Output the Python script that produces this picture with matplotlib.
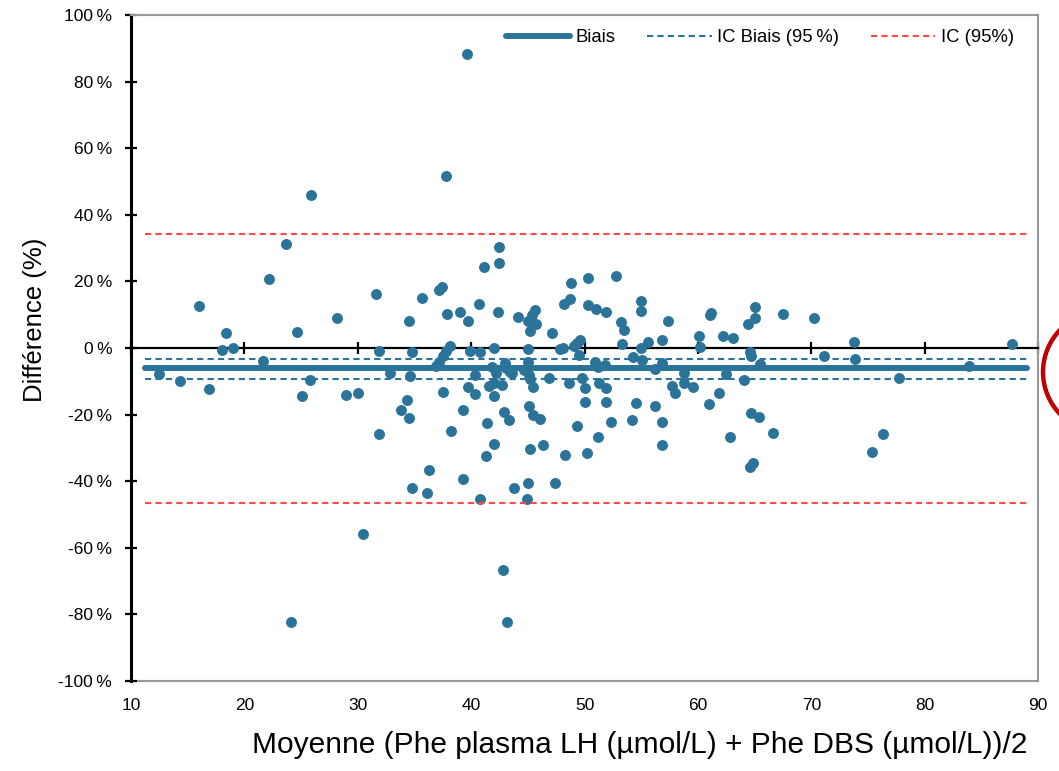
import numpy as np
import matplotlib
matplotlib.use('Agg')
import matplotlib.pyplot as plt
from matplotlib.patches import Ellipse

plt.rcParams['font.family'] = ['Liberation Sans', 'DejaVu Sans']

# moyenne des deux methodes (umol/L) et difference (%)
moyenne = [12.5, 14.3, 16.0, 16.9, 18.0, 18.4, 19.0, 21.6, 22.2, 23.7,
           24.1, 24.6, 25.1, 25.8, 25.9, 28.2, 29.0, 30.0, 30.5, 31.6,
           31.9, 31.9, 32.8, 33.8, 34.3, 34.5, 34.5, 34.6, 34.8, 34.8,
           35.7, 36.1, 36.3, 36.9, 37.2, 37.2, 37.4, 37.5, 37.5, 37.8,
           37.8, 37.9, 38.1, 38.2, 39.0, 39.3, 39.3, 39.6, 39.7, 39.7,
           39.9, 40.3, 40.3, 40.7, 40.8, 40.8, 41.1, 41.3, 41.4, 41.6,
           41.8, 42.0, 42.0, 42.0, 42.0, 42.2, 42.4, 42.5, 42.5, 42.7,
           42.8, 42.9, 43.0, 43.1, 43.2, 43.3, 43.4, 43.6, 43.8, 44.1,
           44.7, 44.9, 45.0, 45.0, 45.0, 45.0, 45.1, 45.1, 45.2, 45.2,
           45.2, 45.4, 45.5, 45.5, 45.6, 45.7, 46.1, 46.3, 46.9, 47.1,
           47.4, 47.8, 48.1, 48.2, 48.3, 48.6, 48.7, 48.8, 49.1, 49.3,
           49.5, 49.6, 49.8, 50.0, 50.0, 50.2, 50.3, 50.3, 50.9, 51.0,
           51.2, 51.2, 51.3, 51.8, 51.9, 51.9, 51.9, 52.3, 52.8, 53.2,
           53.3, 53.5, 54.2, 54.3, 54.5, 55.0, 55.0, 55.0, 55.1, 55.6,
           56.2, 56.2, 56.8, 56.8, 56.8, 56.8, 57.4, 57.7, 58.0, 58.8,
           58.8, 59.6, 60.1, 60.2, 61.0, 61.1, 61.2, 61.9, 62.2, 62.5,
           62.8, 63.1, 64.1, 64.4, 64.6, 64.6, 64.7, 64.7, 64.9, 65.0,
           65.0, 65.4, 65.5, 66.6, 67.5, 70.2, 71.1, 73.8, 73.9, 75.4,
           76.3, 77.7, 83.9, 87.7, 49.3]
difference = [-7.9, -9.9, 12.7, -12.2, -0.6, 4.4, -0.1, -3.9, 20.6, 31.1,
              -82.4, 4.8, -14.4, -9.6, 45.9, 8.9, -14.0, -13.4, -55.9, 16.1,
              -0.9, -25.8, -7.6, -18.6, -15.6, -20.9, 8.2, -8.4, -1.3, -42.0,
              15.0, -43.5, -36.7, -5.4, 17.4, -4.1, 18.4, -2.4, -13.3, 51.6,
              -0.8, 10.1, 0.6, -24.9, 10.9, -18.6, -39.4, 88.4, 8.2, -11.8,
              -0.9, -8.1, -13.7, 13.1, -1.3, -45.4, 24.4, -32.4, -22.4, -11.3,
              -5.6, -0.1, -10.4, -14.4, -28.8, -7.6, 10.7, 30.4, 25.4, -11.1,
              -66.6, -19.3, -4.6, -6.1, -82.4, -21.6, -7.1, -7.6, -42.1, 9.2,
              -6.6, -45.4, 8.2, -0.3, -4.1, -40.4, -8.1, -17.4, 5.1, -9.4,
              -30.4, 9.9, -11.6, -20.1, 11.4, 7.1, -21.3, -29.1, -9.1, 4.4,
              -40.4, -0.3, 0.1, 13.1, -32.1, -10.4, 14.6, 19.4, 0.6, -23.4,
              -2.1, 2.4, -8.9, -12.1, -16.3, -31.4, 21.1, 12.9, -4.1, 11.6,
              -5.6, -26.6, -10.6, -5.1, 10.7, -12.1, -16.3, -22.1, 21.7, 7.7,
              1.1, 5.4, -21.6, -2.8, -16.6, 14.1, 11.2, -0.1, -3.6, 1.7,
              -6.4, -17.4, 2.4, -4.6, -22.1, -29.1, 8.2, -11.3, -13.6, -7.6,
              -10.6, -11.8, 3.7, 0.4, -16.8, 9.9, 10.4, -13.4, 3.6, -7.8,
              -26.6, 2.9, -9.6, 7.1, -1.3, -35.6, -2.3, -19.6, -34.6, 12.4,
              8.9, -20.6, -4.8, -25.4, 10.1, 8.9, -2.4, 1.9, -3.3, -31.1,
              -25.8, -8.9, -5.3, 1.1, 1.4]

biais = -6.1
ic_biais = [-3.2, -9.2]
ic_95 = [34.2, -46.6]
x_lignes = [11.2, 89.0]

bleu = '#2b7398'
rouge = '#ff4a4a'

fig = plt.figure(figsize=(10.59, 7.71), dpi=100)
ax = fig.add_axes([0.1237, 0.1167, 0.8565, 0.8638])

ax.scatter(moyenne, difference, s=62, color=bleu, linewidths=0, zorder=3)

# les lignes passent au-dessus des points
ax.plot(x_lignes, [biais, biais], color=bleu, lw=4.3, solid_capstyle='round',
        label='Biais', zorder=4)
ax.plot(x_lignes, [ic_biais[0]] * 2, color=bleu, lw=1.5, ls=(0, (3, 2)),
        label='IC Biais (95\u2009%)', zorder=4)
ax.plot(x_lignes, [ic_biais[1]] * 2, color=bleu, lw=1.5, ls=(0, (3, 2)), zorder=4)
ax.plot(x_lignes, [ic_95[0]] * 2, color=rouge, lw=1.5, ls=(0, (3, 2)),
        label='IC (95%)', zorder=4)
ax.plot(x_lignes, [ic_95[1]] * 2, color=rouge, lw=1.5, ls=(0, (3, 2)), zorder=4)

ax.set_xlim(10, 90)
ax.set_ylim(-100, 100)

# axe horizontal qui croise a 0, etiquettes en bas
ax.spines['bottom'].set_position(('data', 0))
ax.spines['bottom'].set_color('black')
ax.spines['bottom'].set_linewidth(1.6)
ax.spines['left'].set_color('black')
ax.spines['left'].set_linewidth(2.2)
ax.spines['top'].set_color('#999999')
ax.spines['right'].set_color('#999999')
ax.spines['top'].set_linewidth(1.5)
ax.spines['right'].set_linewidth(1.5)

xt = np.arange(10, 91, 10)
ax.set_xticks(xt)
ax.tick_params(axis='x', direction='inout', length=8, width=1.6,
               labelbottom=False)
ax.set_yticks(np.arange(-100, 101, 20))
ax.set_yticklabels([f'{v}\u2009%' for v in range(-100, 101, 20)])
ax.tick_params(axis='y', direction='inout', length=8, width=1.6,
               labelsize=12.5, pad=9.5)

sec = ax.secondary_xaxis('bottom')
sec.set_xticks(xt)
sec.tick_params(length=0, labelsize=12.5, pad=12)
sec.spines['bottom'].set_color('#999999')
sec.spines['bottom'].set_linewidth(1.5)

fig.text(640 / 1059, 1 - 745 / 771,
         'Moyenne (Phe plasma LH (µmol/L) + Phe DBS (µmol/L))/2',
         fontsize=21.5, ha='center', va='center')
fig.text(35 / 1059, 1 - 320 / 771, 'Différence (%)', fontsize=18.5,
         rotation=90, ha='center', va='center')

ax.legend(loc='upper right', bbox_to_anchor=(0.992, 1.004), ncol=3,
          frameon=False, fontsize=13.3, handlelength=3.5, columnspacing=1.7,
          handletextpad=0.3)

# cercle rouge coupe au bord droit
fig.add_artist(Ellipse((1103.5 / 1059, 1 - 372 / 771), 121 / 1059, 121 / 771,
                       transform=fig.transFigure, fill=False,
                       edgecolor='#c00000', lw=3.2))

fig.savefig('out.png', dpi=100)
